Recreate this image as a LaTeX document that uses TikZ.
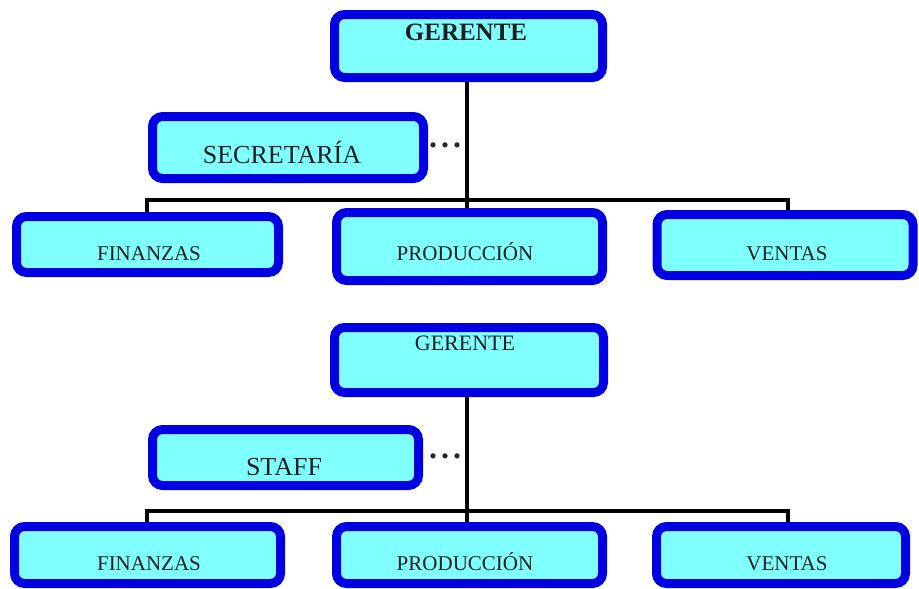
\documentclass[tikz,border=0pt]{standalone}
\usepackage{fontspec}
\setmainfont{Liberation Serif}
\usetikzlibrary{backgrounds}
\definecolor{boxblue}{RGB}{0,0,225}
\definecolor{boxfill}{RGB}{128,255,255}
\tikzset{
  orgbox/.style={draw=boxblue, fill=boxfill, line width=9pt, rounded corners=10pt,
    inner sep=0pt, outer sep=0pt, rectangle},
  conn/.style={draw=black, line width=4pt},
  lbl/.style={anchor=base, inner sep=0pt, text=black!88},
  dotlbl/.style={anchor=base, inner sep=0pt, text=black!85, font=\fontsize{32}{36}\selectfont\bfseries},
}
\begin{document}
\begin{tikzpicture}[x=1pt,y=-1pt]
\useasboundingbox (0,0) rectangle (919,589);
% ---------------- top chart ----------------
\coordinate (bus1) at (467,200);
\coordinate (bus2) at (467,511);
\node[orgbox, minimum width=268pt, minimum height=63pt] (G1) at (468.5,46) {};
\node[orgbox, minimum width=271pt, minimum height=62pt] (S1) at (288,147.5) {};
\node[orgbox, minimum width=262pt, minimum height=56pt] (F1) at (147.5,244.5) {};
\node[orgbox, minimum width=266pt, minimum height=68pt] (P1) at (469.5,246.5) {};
\node[orgbox, minimum width=256pt, minimum height=61pt] (V1) at (785,245) {};
\node[lbl, font=\fontsize{25}{28}\selectfont\bfseries] (tG1) at (466,40.5) {GERENTE};
\node[lbl, font=\fontsize{26}{30}\selectfont] (tS1) at (282,163.5) {SECRETARÍA};
\node[lbl, font=\fontsize{21}{25}\selectfont] (tF1) at (149,260) {FINANZAS};
\node[lbl, font=\fontsize{21}{25}\selectfont] (tP1) at (465,260) {PRODUCCIÓN};
\node[lbl, font=\fontsize{21}{25}\selectfont] (tV1) at (787,260) {VENTAS};
\node[dotlbl] (d1) at (445,147.5) {.\hspace{4pt}.\hspace{4pt}.};
% ---------------- bottom chart ----------------
\node[orgbox, minimum width=269pt, minimum height=65pt] (G2) at (469,360) {};
\node[orgbox, minimum width=266pt, minimum height=56pt] (S2) at (285.5,457.5) {};
\node[orgbox, minimum width=266pt, minimum height=57pt] (F2) at (147.5,555) {};
\node[orgbox, minimum width=266pt, minimum height=57pt] (P2) at (469.5,555) {};
\node[orgbox, minimum width=249pt, minimum height=57pt] (V2) at (781,555) {};
\node[lbl, font=\fontsize{22}{26}\selectfont] (tG2) at (465,350.3) {GERENTE};
\node[lbl, font=\fontsize{26}{30}\selectfont] (tS2) at (284,475.5) {STAFF};
\node[lbl, font=\fontsize{21}{25}\selectfont] (tF2) at (149,570.5) {FINANZAS};
\node[lbl, font=\fontsize{21}{25}\selectfont] (tP2) at (465,570.5) {PRODUCCIÓN};
\node[lbl, font=\fontsize{21}{25}\selectfont] (tV2) at (787,570.5) {VENTAS};
\node[dotlbl] (d2) at (445,458.5) {.\hspace{4pt}.\hspace{4pt}.};
% connectors (behind boxes)
\begin{pgfonlayer}{background}
\fill[white] (0,0) rectangle (919,589);
\draw[conn] (G1.south -| bus1) -- (P1.north -| bus1);
\draw[conn] (F1.north -| 147,0) |- (bus1) -| (V1.north -| 788,0);
\draw[conn] (G2.south -| bus2) -- (P2.north -| bus2);
\draw[conn] (F2.north -| 147,0) |- (bus2) -| (V2.north -| 788,0);
\end{pgfonlayer}
\end{tikzpicture}
\end{document}
